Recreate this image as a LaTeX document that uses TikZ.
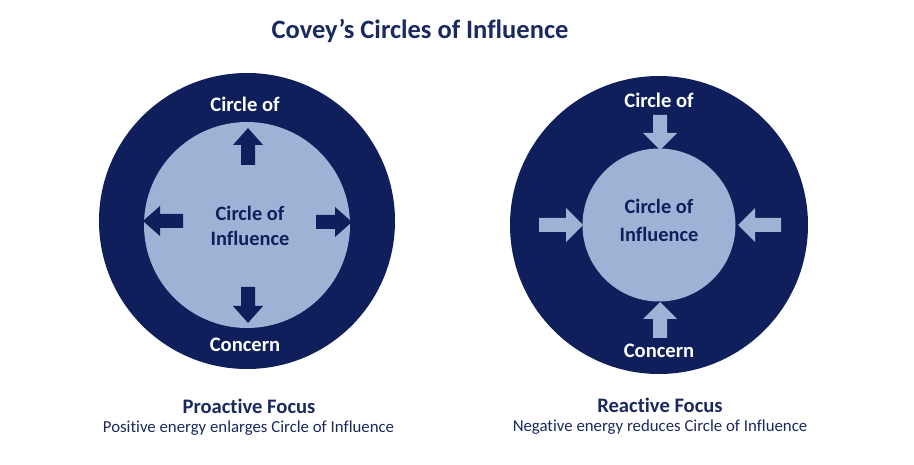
\documentclass[tikz,border=0pt]{standalone}
\usepackage{fontspec}
\setmainfont{Carlito}[Ligatures={NoCommon}]
\definecolor{navy}{HTML}{0E1F5B}
\definecolor{lightb}{HTML}{9CB3D5}
\definecolor{titlec}{HTML}{1A2A60}
\tikzset{
  pics/barrow/.style args={#1/#2}{code={
    \fill (-#1,-7) -- (-17,-7) -- (-17,-#2) -- (0,0) -- (-17,#2) -- (-17,7) -- (-#1,7) -- cycle;
  }},
  outerc/.style={circle,fill=navy,inner sep=0pt},
  innerc/.style={circle,fill=lightb,inner sep=0pt},
  whitelbl/.style={text=white,font=\fontsize{20.6}{24}\selectfont\bfseries,inner sep=0pt},
  navylbl/.style={text=navy,font=\fontsize{20.4}{24}\selectfont\bfseries,inner sep=0pt},
  focus/.style={text=titlec,font=\fontsize{20.6}{24}\selectfont\bfseries,inner sep=0pt},
  sub/.style={text=titlec,font=\fontsize{16.8}{20}\selectfont,inner sep=0pt},
}
\begin{document}
\begin{tikzpicture}[x=1pt,y=-1pt]
\useasboundingbox[fill=white] (0,0) rectangle (914,465);
% title
\node[text=titlec,font=\fontsize{26.5}{30}\selectfont\bfseries,inner sep=0pt] (title) at (420,31) {Covey’s Circles of Influence};
% left diagram
\node[outerc,minimum size=296pt] (LO) at (247,221) {};
\node[innerc,minimum size=206pt] (LI) at (247,225) {};
\pic[navy,rotate=90] at (248,128) {barrow={37/15}};
\pic[navy,rotate=-90] at (248,323) {barrow={36/15}};
\pic[navy,rotate=180] at (143,221) {barrow={40/15}};
\pic[navy] at (352,222) {barrow={36/15}};
\node[whitelbl] (LT) at (245,104) {Circle of};
\node[whitelbl] (LB) at (245,345) {Concern};
\node[navylbl] (LC1) at (250,213) {Circle of};
\node[navylbl] (LC2) at (250,238) {Influence};
\node[focus] (LF) at (249,406) {Proactive Focus};
\node[sub] (LS) at (248.5,428) {Positive energy enlarges Circle of Influence};
% right diagram
\node[outerc,minimum size=298pt] (RO) at (659,225) {};
\node[innerc,minimum size=153pt] (RI) at (659,225) {};
\pic[lightb,rotate=-90] at (660,150) {barrow={35/17}};
\pic[lightb,rotate=90] at (660,302) {barrow={36/17}};
\pic[lightb] at (583,225) {barrow={44/17}};
\pic[lightb,rotate=180] at (738,225) {barrow={43/17}};
\node[whitelbl] (RT) at (659,100) {Circle of};
\node[whitelbl] (RB) at (659,351) {Concern};
\node[navylbl] (RC1) at (659,206) {Circle of};
\node[navylbl] (RC2) at (659,234) {Influence};
\node[focus] (RF) at (660,405) {Reactive Focus};
\node[sub] (RS) at (660,427) {Negative energy reduces Circle of Influence};
\end{tikzpicture}
\end{document}
